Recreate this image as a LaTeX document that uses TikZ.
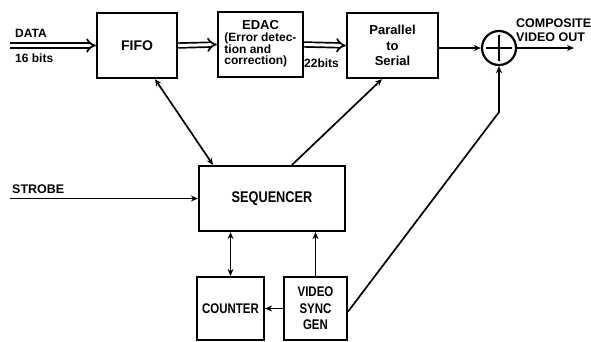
\documentclass[tikz,border=0pt]{standalone}
\usepackage{fontspec}
\setmainfont{Liberation Sans}
\newfontfamily\narrowfont{Liberation Sans}[FakeStretch=0.82]
\usetikzlibrary{arrows.meta,calc}
\tikzset{
  blk/.style={draw, line width=2.2pt, inner sep=0pt, align=center},
  lbl/.style={inner sep=0pt},
  sarrow/.style={line width=1.7pt, -{Stealth[length=7pt,width=6pt]}},
  darrow/.style={line width=1.7pt, {Stealth[length=7pt,width=6pt]}-{Stealth[length=7pt,width=6pt]}},
  busarrow/.style={double, double distance=3pt, line width=1.7pt, -{Implies[length=8pt,width=15pt]}},
}
\begin{document}
\begin{tikzpicture}[x=1pt,y=-1pt]
\useasboundingbox (0,0) rectangle (591,341);
% blocks
\node[blk, minimum width=80pt, minimum height=65pt, font=\bfseries\fontsize{14}{16}\selectfont] (fifo) at (137,45.5) {FIFO};
\node[blk, minimum width=85pt, minimum height=65pt, font=\bfseries\fontsize{12}{13}\selectfont] (edac) at (260.5,44.5)
  {\begin{tabular}{@{}l@{}}\multicolumn{1}{@{}c@{}}{\fontsize{13}{14}\selectfont EDAC}\\[-1pt](Error detec-\\[-1.5pt]tion and\\[-1.5pt]correction)\end{tabular}};
\node[blk, minimum width=91pt, minimum height=65pt, font=\bfseries\fontsize{13}{15.5}\selectfont] (ps) at (392.5,45.5) {Parallel\\to\\Serial};
\node[blk, circle, minimum size=34pt] (sum) at (499,48) {};
\draw[line width=1.8pt] ($(sum.center)+(-13,0)$) -- ($(sum.center)+(13,0)$);
\draw[line width=1.8pt] ($(sum.center)+(0,-13)$) -- ($(sum.center)+(0,13)$);
\node[blk, minimum width=146pt, minimum height=65pt, font=\narrowfont\bfseries\fontsize{15.5}{17}\selectfont] (seq) at (272,198.5) {SEQUENCER};
\node[blk, minimum width=67pt, minimum height=63pt, font=\narrowfont\bfseries\fontsize{14}{16}\selectfont] (counter) at (230.5,308.5) {COUNTER};
\node[blk, minimum width=63pt, minimum height=63pt, font=\narrowfont\bfseries\fontsize{14}{16.5}\selectfont] (video) at (315.5,308.5) {VIDEO\\SYNC\\GEN};
% inputs / outputs
\coordinate (datain) at (10,45.5);
\coordinate (strobein) at (10,198.5);
\coordinate (vout) at (574,48);
\node[lbl, anchor=west, font=\bfseries\fontsize{12}{14}\selectfont] (datalbl) at (15,33) {DATA};
\node[lbl, anchor=west, font=\bfseries\fontsize{12}{14}\selectfont] (bitslbl) at (15,58) {16 bits};
\node[lbl, anchor=west, font=\bfseries\fontsize{12}{14}\selectfont] (bits22) at (304,63) {22bits};
\node[lbl, anchor=west, font=\bfseries\fontsize{12.5}{14}\selectfont] (strobelbl) at (12,189) {STROBE};
\node[lbl, anchor=west, align=left, font=\bfseries\fontsize{12.5}{13.5}\selectfont] (outlbl) at (516,30) {COMPOSITE\\VIDEO OUT};
% connectors
\draw[busarrow] (datain) -- (fifo.west);
\draw[busarrow] (fifo.east) -- (edac.west);
\draw[busarrow] (edac.east) -- (ps.west);
\draw[sarrow] (ps.east |- sum.west) -- (sum.west);
\draw[sarrow] (sum.east) -- (vout);
\draw[sarrow] (strobein) -- (seq.west);
\draw[darrow] ([xshift=18pt]fifo.south) -- ([xshift=-59pt]seq.north);
\draw[sarrow] ([xshift=20pt]seq.north) -- ([xshift=-10.5pt]ps.south);
\draw[darrow] (seq.south -| counter.north) -- (counter.north);
\draw[sarrow] (video.north) -- (seq.south -| video.north);
\draw[sarrow] (video.west) -- (counter.east);
\draw[sarrow] ([yshift=-3pt]video.east) -- ($(sum.south)+(0,46)$) -- (sum.south);
\end{tikzpicture}
\end{document}
